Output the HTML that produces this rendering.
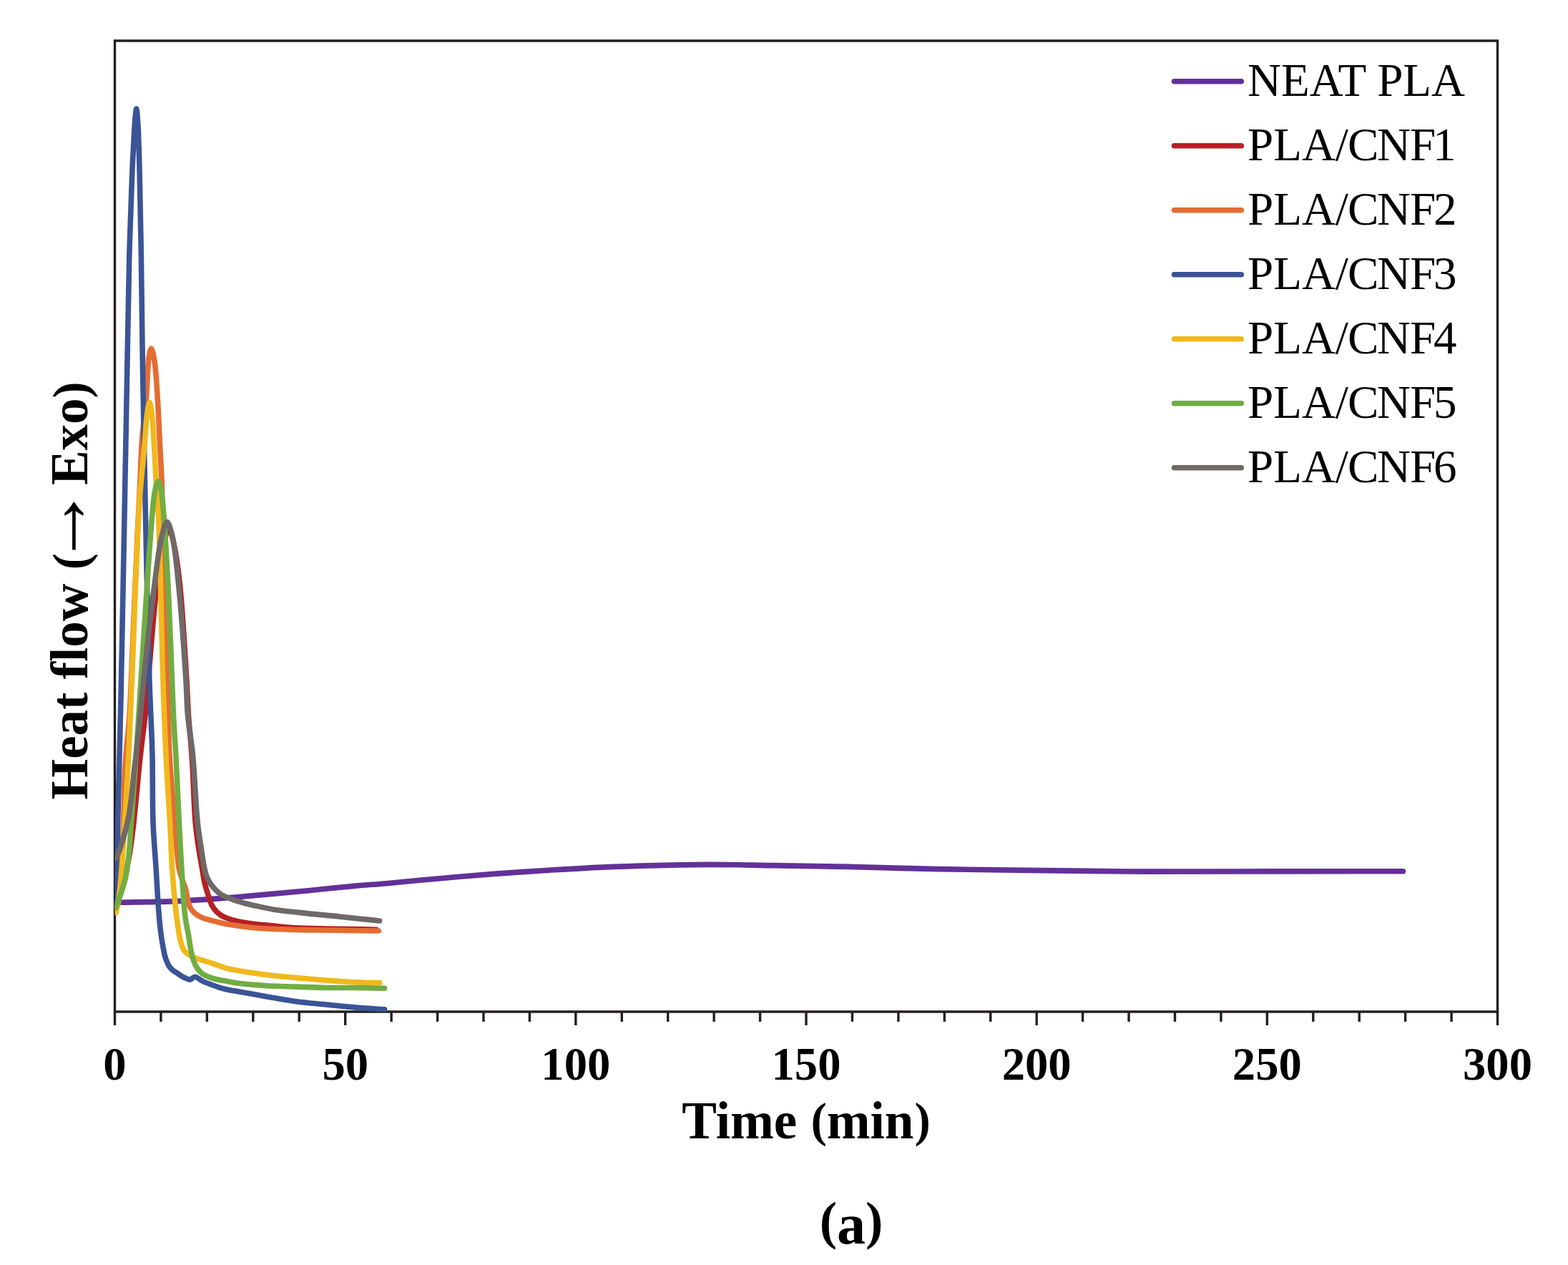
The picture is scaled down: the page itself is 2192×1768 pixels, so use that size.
<!DOCTYPE html>
<html><head><meta charset="utf-8"><title>Heat flow vs Time</title>
<style>
html,body{margin:0;padding:0;background:#fff;}
body{width:2192px;height:1768px;overflow:hidden;}
svg{display:block;}
text{font-family:"Liberation Serif","Times New Roman",serif;fill:#000;}
.tl{font-size:64.6px;font-weight:bold;}
.at{font-size:73px;font-weight:bold;}
.arr{font-weight:normal;font-size:112px;}
.pr{font-size:67px;}
.pr2{font-size:69px;}
.lab{font-size:73px;font-weight:bold;}
.lg{font-size:65px;font-weight:normal;}
</style></head><body>
<svg width="2192" height="1768" viewBox="0 0 2192 1768">
<rect width="2192" height="1768" fill="#ffffff"/>
<path d="M160.5 1414.0 L160.5 57.0 L2093.5 57.0 L2093.5 1414.0 Z" fill="none" stroke="#231f20" stroke-width="3.4" stroke-linejoin="miter"/>
<path d="M160.50 1414.0 L160.50 1433.0 M224.93 1414.0 L224.93 1428.0 M289.37 1414.0 L289.37 1428.0 M353.80 1414.0 L353.80 1428.0 M418.23 1414.0 L418.23 1428.0 M482.67 1414.0 L482.67 1433.0 M547.10 1414.0 L547.10 1428.0 M611.53 1414.0 L611.53 1428.0 M675.97 1414.0 L675.97 1428.0 M740.40 1414.0 L740.40 1428.0 M804.83 1414.0 L804.83 1433.0 M869.27 1414.0 L869.27 1428.0 M933.70 1414.0 L933.70 1428.0 M998.13 1414.0 L998.13 1428.0 M1062.57 1414.0 L1062.57 1428.0 M1127.00 1414.0 L1127.00 1433.0 M1191.43 1414.0 L1191.43 1428.0 M1255.87 1414.0 L1255.87 1428.0 M1320.30 1414.0 L1320.30 1428.0 M1384.73 1414.0 L1384.73 1428.0 M1449.17 1414.0 L1449.17 1433.0 M1513.60 1414.0 L1513.60 1428.0 M1578.03 1414.0 L1578.03 1428.0 M1642.47 1414.0 L1642.47 1428.0 M1706.90 1414.0 L1706.90 1428.0 M1771.33 1414.0 L1771.33 1433.0 M1835.77 1414.0 L1835.77 1428.0 M1900.20 1414.0 L1900.20 1428.0 M1964.63 1414.0 L1964.63 1428.0 M2029.07 1414.0 L2029.07 1428.0 M2093.50 1414.0 L2093.50 1433.0" stroke="#231f20" stroke-width="3.4" fill="none"/>
<defs><clipPath id="pa"><rect x="160.5" y="57.0" width="1933.0" height="1357.0"/></clipPath></defs>
<g clip-path="url(#pa)">
<path d="M161.0 1262.0 C164.10 1261.73 166.19 1261.41 170.3 1261.2 C178.35 1260.80 193.77 1260.95 206.1 1260.7 C219.28 1260.43 233.37 1260.20 247.0 1259.6 C260.64 1259.00 274.27 1258.03 287.9 1257.1 C301.54 1256.17 314.77 1255.16 328.8 1254.0 C343.69 1252.77 358.89 1251.34 374.8 1249.9 C391.96 1248.35 409.33 1246.82 428.3 1245.0 C449.87 1242.94 477.13 1239.92 497.4 1238.1 C513.30 1236.67 523.80 1236.10 540.0 1234.7 C561.55 1232.84 590.19 1229.92 615.3 1227.7 C640.39 1225.48 665.50 1223.28 690.6 1221.4 C715.67 1219.52 740.72 1217.95 765.8 1216.4 C790.89 1214.85 815.99 1213.23 841.1 1212.1 C866.19 1210.97 891.30 1210.22 916.4 1209.6 C941.50 1208.98 965.60 1208.43 991.7 1208.4 C1019.96 1208.37 1049.26 1209.13 1080.0 1209.6 C1113.60 1210.11 1148.81 1210.62 1185.5 1211.4 C1225.52 1212.25 1269.17 1213.77 1311.0 1214.6 C1352.81 1215.43 1391.82 1215.85 1436.4 1216.4 C1487.31 1217.03 1544.16 1217.84 1600.0 1218.1 C1658.57 1218.37 1719.88 1217.97 1780.0 1217.9 C1840.37 1217.83 1901.00 1217.77 1961.5 1217.7" fill="none" stroke="#633199" stroke-width="7.6" stroke-linecap="round" stroke-linejoin="round"/>
<path d="M161.5 1267.0 C162.67 1264.33 163.84 1261.90 165.0 1259.0 C166.34 1255.64 167.75 1251.98 169.0 1248.0 C170.44 1243.42 171.72 1238.24 173.0 1233.0 C174.40 1227.29 175.68 1221.31 177.0 1215.0 C178.45 1208.04 179.94 1201.23 181.3 1193.0 C183.02 1182.58 184.34 1172.38 186.1 1157.4 C189.10 1131.88 193.33 1082.62 196.5 1053.7 C198.79 1032.87 200.48 1023.15 202.9 1000.0 C207.31 957.79 213.65 863.74 219.0 821.0 C222.01 796.99 224.54 780.21 228.0 765.0 C230.44 754.28 233.33 738.00 236.0 738.0 C238.67 738.00 241.68 754.27 244.0 765.0 C247.29 780.20 249.44 798.45 251.8 821.0 C255.37 855.11 258.88 917.00 260.9 950.0 C262.16 970.54 262.32 982.58 263.5 1000.0 C264.79 1019.10 267.01 1037.97 268.5 1060.0 C270.33 1086.96 271.02 1126.03 273.2 1150.0 C274.66 1166.03 276.67 1178.62 278.4 1190.0 C279.70 1198.53 281.00 1204.87 282.3 1212.3 C283.60 1219.73 284.58 1227.75 286.2 1234.6 C287.62 1240.61 289.46 1246.00 291.2 1251.3 C292.81 1256.19 294.12 1261.35 296.2 1265.3 C297.94 1268.60 300.05 1271.31 302.3 1273.7 C304.35 1275.88 306.49 1277.61 309.0 1279.2 C311.69 1280.91 314.64 1282.21 318.0 1283.5 C321.99 1285.03 326.29 1286.31 331.5 1287.5 C338.42 1289.08 348.56 1290.57 356.0 1291.5 C362.17 1292.27 366.09 1292.38 373.0 1293.0 C383.78 1293.97 400.58 1295.97 414.4 1296.8 C428.21 1297.63 442.07 1297.70 455.9 1298.0 C469.73 1298.30 484.85 1298.38 497.4 1298.6 C507.82 1298.78 516.47 1299.00 526.0 1299.2" fill="none" stroke="#b72024" stroke-width="7.6" stroke-linecap="round" stroke-linejoin="round"/>
<path d="M161.5 1268.0 C162.67 1266.00 164.01 1264.94 165.0 1262.0 C167.14 1255.68 167.90 1242.93 169.0 1230.0 C170.68 1210.27 171.48 1180.00 172.4 1155.0 C173.32 1130.00 173.58 1099.36 174.5 1080.0 C175.08 1067.74 175.62 1061.26 176.5 1050.0 C177.64 1035.44 179.68 1019.54 181.0 1000.0 C182.86 972.40 183.91 936.13 185.5 900.0 C187.38 857.25 189.63 800.18 191.5 760.0 C192.91 729.62 194.28 705.28 195.5 680.0 C196.60 657.21 197.16 633.32 198.5 615.0 C199.48 601.53 200.89 591.31 202.0 580.0 C203.05 569.35 204.25 559.17 205.0 549.0 C205.73 539.18 205.94 528.77 206.5 520.0 C206.96 512.71 206.99 505.91 208.0 500.0 C208.83 495.16 210.28 486.99 211.5 487.0 C212.93 487.01 214.75 497.47 216.0 505.0 C218.03 517.21 218.91 536.04 220.1 553.7 C221.52 574.71 222.52 601.42 223.6 622.8 C224.53 641.31 225.46 652.94 226.2 674.6 C227.45 710.99 227.53 773.75 228.9 821.0 C230.19 865.37 232.61 909.34 234.0 950.0 C235.25 986.45 235.21 1019.79 237.0 1053.7 C238.73 1086.42 242.03 1121.43 244.4 1150.0 C246.30 1172.94 247.25 1197.61 249.9 1212.0 C251.35 1219.89 253.26 1224.62 255.0 1230.0 C256.44 1234.46 258.18 1237.73 259.4 1242.1 C260.78 1247.04 261.39 1253.49 262.6 1258.2 C263.57 1261.99 264.17 1265.25 265.8 1268.3 C267.41 1271.32 269.82 1274.16 272.3 1276.4 C274.68 1278.55 277.25 1280.14 280.3 1281.6 C283.82 1283.29 288.06 1284.33 292.4 1285.6 C297.36 1287.05 303.57 1288.58 308.5 1289.7 C312.64 1290.64 316.16 1291.32 320.0 1292.0 C323.83 1292.68 326.94 1293.16 331.5 1293.8 C338.13 1294.73 348.57 1296.08 356.0 1296.8 C362.17 1297.40 365.92 1297.63 373.0 1298.0 C384.76 1298.62 403.66 1299.23 420.0 1299.6 C437.80 1300.00 457.40 1299.96 475.8 1300.2 C493.82 1300.43 511.47 1300.73 529.3 1301.0" fill="none" stroke="#e46d33" stroke-width="7.6" stroke-linecap="round" stroke-linejoin="round"/>
<path d="M161.5 1262.0 C161.93 1254.67 162.41 1249.68 162.8 1240.0 C163.55 1221.26 163.84 1186.50 164.5 1157.4 C165.24 1124.80 166.31 1085.89 167.1 1053.7 C167.79 1025.66 168.26 1008.73 169.0 975.0 C170.33 914.29 172.50 798.76 174.0 720.0 C175.29 652.02 176.35 591.54 177.5 530.0 C178.58 471.86 179.35 411.48 180.7 360.4 C181.81 318.29 183.41 273.72 184.6 245.2 C185.30 228.35 185.94 217.53 186.6 205.0 C187.18 194.00 187.53 183.44 188.3 174.0 C188.95 166.03 189.93 151.99 190.7 152.0 C191.50 152.01 192.41 167.02 193.0 176.0 C193.75 187.42 194.02 202.83 194.4 215.0 C194.73 225.71 194.90 231.88 195.2 245.2 C195.79 271.21 196.71 318.30 197.4 360.4 C198.23 411.48 198.74 471.86 199.7 530.0 C200.72 591.54 201.96 653.65 203.4 720.0 C204.98 793.01 206.98 888.41 208.9 950.0 C210.19 991.37 212.05 1019.77 212.9 1053.7 C213.72 1086.39 212.92 1121.43 214.0 1150.0 C214.87 1172.95 216.69 1191.30 218.0 1212.0 C219.32 1232.77 220.51 1257.20 221.9 1274.4 C222.89 1286.56 223.87 1296.85 225.0 1305.5 C225.82 1311.73 226.71 1316.50 227.6 1321.5 C228.38 1325.93 229.08 1330.29 230.0 1334.0 C230.75 1337.04 231.44 1339.50 232.5 1342.2 C233.59 1345.00 234.89 1348.12 236.5 1350.5 C237.94 1352.64 239.58 1354.37 241.5 1356.0 C243.52 1357.72 245.97 1358.93 248.4 1360.5 C251.11 1362.25 254.04 1364.55 257.0 1366.0 C259.82 1367.38 263.02 1369.33 265.7 1369.1 C268.19 1368.89 270.08 1365.18 272.6 1365.2 C275.70 1365.22 279.14 1369.36 282.9 1371.2 C287.12 1373.27 291.89 1375.03 296.8 1376.8 C302.19 1378.75 308.19 1380.85 314.0 1382.3 C319.76 1383.74 324.42 1384.22 331.5 1385.5 C342.39 1387.47 359.17 1390.51 373.0 1392.9 C386.80 1395.28 400.56 1397.95 414.4 1399.8 C428.20 1401.65 442.07 1402.62 455.9 1404.0 C469.73 1405.38 483.68 1406.94 497.4 1408.1 C510.87 1409.24 524.13 1409.97 537.5 1410.9" fill="none" stroke="#3b5496" stroke-width="7.6" stroke-linecap="round" stroke-linejoin="round"/>
<path d="M162.0 1275.6 C162.83 1272.07 163.72 1269.11 164.5 1265.0 C165.56 1259.40 166.48 1253.13 167.4 1245.0 C168.82 1232.41 169.90 1216.30 171.3 1196.7 C173.47 1166.25 176.90 1108.73 178.5 1080.0 C179.44 1063.18 179.75 1056.00 180.5 1040.0 C181.62 1016.00 182.78 987.50 184.4 950.0 C187.09 887.50 191.17 759.50 195.1 700.0 C197.29 666.88 200.12 644.77 202.0 622.8 C203.40 606.45 203.97 591.10 205.5 580.0 C206.48 572.85 207.73 562.51 208.9 562.5 C210.07 562.49 211.52 572.84 212.5 580.0 C214.02 591.09 214.50 606.82 215.5 622.8 C216.77 643.11 218.10 674.07 219.3 692.0 C220.06 703.41 220.76 706.15 221.5 720.0 C223.61 759.65 225.86 888.41 227.9 950.0 C229.27 991.37 230.22 1019.14 231.9 1053.7 C233.58 1088.28 236.48 1128.33 238.0 1157.4 C239.10 1178.49 239.24 1193.24 240.5 1212.0 C241.85 1232.02 244.19 1257.77 246.0 1274.0 C247.18 1284.54 248.28 1292.39 249.5 1300.0 C250.46 1305.99 251.25 1311.33 252.5 1316.0 C253.51 1319.77 254.56 1323.25 256.0 1326.0 C257.16 1328.21 258.37 1329.93 260.0 1331.5 C261.68 1333.11 263.69 1334.22 266.0 1335.5 C268.85 1337.08 272.93 1338.83 276.0 1340.0 C278.51 1340.96 280.27 1341.37 283.0 1342.2 C286.82 1343.37 291.76 1344.67 296.8 1346.3 C303.02 1348.31 311.22 1351.81 317.5 1353.5 C322.57 1354.86 325.58 1355.18 331.5 1356.2 C341.65 1357.95 359.15 1360.76 373.0 1362.5 C386.79 1364.23 400.59 1365.33 414.4 1366.6 C428.22 1367.87 442.06 1369.05 455.9 1370.1 C469.73 1371.15 484.33 1372.32 497.4 1372.9 C509.08 1373.42 519.53 1373.37 530.6 1373.6" fill="none" stroke="#f1b81d" stroke-width="7.6" stroke-linecap="round" stroke-linejoin="round"/>
<path d="M161.5 1268.7 C163.73 1262.80 166.05 1257.34 168.2 1251.0 C170.64 1243.83 173.31 1236.17 175.2 1227.8 C177.35 1218.26 178.60 1208.14 179.9 1196.7 C181.49 1182.74 182.13 1168.35 183.5 1150.0 C185.46 1123.65 188.52 1081.15 190.4 1053.7 C191.80 1033.21 192.21 1025.15 193.9 1000.0 C197.89 940.54 209.71 740.99 214.6 700.0 C215.87 689.35 216.52 684.98 218.0 680.0 C218.93 676.86 220.12 672.61 221.2 672.6 C222.28 672.59 223.53 676.44 224.5 680.0 C226.66 687.92 227.55 703.07 229.0 720.0 C231.50 749.26 233.88 797.12 236.0 840.0 C238.45 889.49 240.50 960.88 242.5 1000.0 C243.66 1022.68 244.68 1033.20 245.8 1053.7 C247.30 1081.14 248.93 1121.42 250.4 1150.0 C251.58 1172.93 252.46 1190.86 253.8 1212.0 C255.21 1234.15 256.51 1262.40 258.7 1280.0 C260.10 1291.28 262.14 1299.04 263.6 1307.6 C264.86 1315.02 265.71 1322.20 267.0 1328.4 C268.06 1333.50 269.01 1337.99 270.5 1342.2 C271.84 1345.98 273.22 1349.47 275.3 1352.6 C277.36 1355.70 279.70 1358.59 282.9 1360.9 C286.63 1363.59 291.47 1365.37 296.8 1367.1 C303.45 1369.26 313.60 1370.77 320.0 1372.0 C324.49 1372.86 326.46 1373.34 331.5 1374.0 C341.02 1375.25 359.16 1376.85 373.0 1377.7 C386.80 1378.55 400.59 1378.63 414.4 1379.1 C428.22 1379.57 442.06 1380.27 455.9 1380.5 C469.73 1380.73 483.69 1380.38 497.4 1380.5 C510.88 1380.62 524.13 1380.97 537.5 1381.2" fill="none" stroke="#71ad43" stroke-width="7.6" stroke-linecap="round" stroke-linejoin="round"/>
<path d="M162.5 1199.5 C163.67 1196.67 164.80 1194.18 166.0 1191.0 C167.51 1187.02 169.23 1182.10 170.7 1177.4 C172.25 1172.45 173.57 1167.61 175.0 1162.0 C176.70 1155.34 178.64 1147.94 180.1 1140.0 C181.79 1130.81 183.02 1120.01 184.2 1110.0 C185.38 1100.01 186.13 1089.67 187.2 1080.0 C188.20 1070.94 189.23 1064.02 190.4 1053.7 C192.06 1038.97 194.24 1017.58 196.0 1000.0 C197.70 983.04 198.64 970.53 200.8 950.0 C204.26 916.99 210.71 857.59 215.5 821.0 C219.06 793.79 221.79 766.37 226.0 750.0 C228.32 740.99 231.10 729.59 233.6 729.6 C236.10 729.61 238.82 740.99 241.0 750.0 C244.95 766.37 247.23 793.79 250.0 821.0 C253.72 857.59 257.78 916.99 259.9 950.0 C261.22 970.53 260.97 983.07 262.5 1000.0 C264.09 1017.61 267.35 1033.17 269.4 1053.7 C272.14 1081.11 273.61 1124.88 276.3 1150.0 C278.04 1166.25 280.47 1179.53 282.0 1190.0 C282.99 1196.77 283.44 1201.15 284.5 1206.7 C285.57 1212.31 286.61 1218.57 288.4 1223.5 C289.92 1227.68 291.81 1231.21 294.0 1234.6 C296.10 1237.85 298.62 1240.85 301.2 1243.5 C303.64 1246.01 306.22 1248.41 309.0 1250.2 C311.64 1251.90 314.58 1252.88 317.4 1254.1 C320.18 1255.31 322.49 1256.34 325.8 1257.5 C330.39 1259.11 336.91 1261.01 342.5 1262.5 C348.04 1263.98 353.22 1265.10 359.2 1266.4 C366.09 1267.90 373.03 1269.53 381.5 1270.9 C392.56 1272.69 405.97 1274.04 420.0 1275.6 C436.87 1277.48 457.30 1279.29 475.8 1281.2 C494.13 1283.09 512.27 1285.07 530.5 1287.0" fill="none" stroke="#6f6968" stroke-width="7.6" stroke-linecap="round" stroke-linejoin="round"/>
</g>
<text x="160.5" y="1508.6" text-anchor="middle" class="tl">0</text>
<text x="482.7" y="1508.6" text-anchor="middle" class="tl">50</text>
<text x="804.8" y="1508.6" text-anchor="middle" class="tl">100</text>
<text x="1127.0" y="1508.6" text-anchor="middle" class="tl">150</text>
<text x="1449.2" y="1508.6" text-anchor="middle" class="tl">200</text>
<text x="1771.3" y="1508.6" text-anchor="middle" class="tl">250</text>
<text x="2093.5" y="1508.6" text-anchor="middle" class="tl">300</text>
<text x="1127" y="1591" text-anchor="middle" class="at">Time <tspan class="pr" dx="1" dy="-3">(</tspan><tspan dy="3">min</tspan><tspan class="pr" dx="1" dy="-3">)</tspan></text>
<text transform="translate(121.5 825.5) rotate(-90)" x="0" y="0" text-anchor="middle" class="at">Heat flow <tspan class="pr2" dx="1">(</tspan><tspan class="arr" dx="-18">→</tspan><tspan dx="-17"> Exo</tspan><tspan class="pr2">)</tspan></text>
<text x="1145.8" y="1731.4" class="lab">(<tspan style="font-size:80px" dy="7">a</tspan><tspan dx="0" dy="-7">)</tspan></text>
<line x1="1641.5" y1="113.8" x2="1735.3" y2="113.8" stroke="#633199" stroke-width="7.6" stroke-linecap="round"/>
<text x="1744" y="134.1" class="lg">NEAT PLA</text>
<line x1="1641.5" y1="203.8" x2="1735.3" y2="203.8" stroke="#b72024" stroke-width="7.6" stroke-linecap="round"/>
<text x="1744" y="224.1" class="lg" dx="0 0 0 0 -1 -2.2 -1.1 -4">PLA/CNF1</text>
<line x1="1641.5" y1="293.8" x2="1735.3" y2="293.8" stroke="#e46d33" stroke-width="7.6" stroke-linecap="round"/>
<text x="1744" y="314.1" class="lg" dx="0 0 0 0 -1 -2.2 -1.1 -3">PLA/CNF2</text>
<line x1="1641.5" y1="383.8" x2="1735.3" y2="383.8" stroke="#3b5496" stroke-width="7.6" stroke-linecap="round"/>
<text x="1744" y="404.1" class="lg" dx="0 0 0 0 -1 -2.2 -1.1 -3">PLA/CNF3</text>
<line x1="1641.5" y1="473.8" x2="1735.3" y2="473.8" stroke="#f1b81d" stroke-width="7.6" stroke-linecap="round"/>
<text x="1744" y="494.1" class="lg" dx="0 0 0 0 -1 -2.2 -1.1 -3">PLA/CNF4</text>
<line x1="1641.5" y1="563.8" x2="1735.3" y2="563.8" stroke="#71ad43" stroke-width="7.6" stroke-linecap="round"/>
<text x="1744" y="584.1" class="lg" dx="0 0 0 0 -1 -2.2 -1.1 -3">PLA/CNF5</text>
<line x1="1641.5" y1="653.8" x2="1735.3" y2="653.8" stroke="#6f6968" stroke-width="7.6" stroke-linecap="round"/>
<text x="1744" y="674.1" class="lg" dx="0 0 0 0 -1 -2.2 -1.1 -3">PLA/CNF6</text>
</svg>
</body></html>
